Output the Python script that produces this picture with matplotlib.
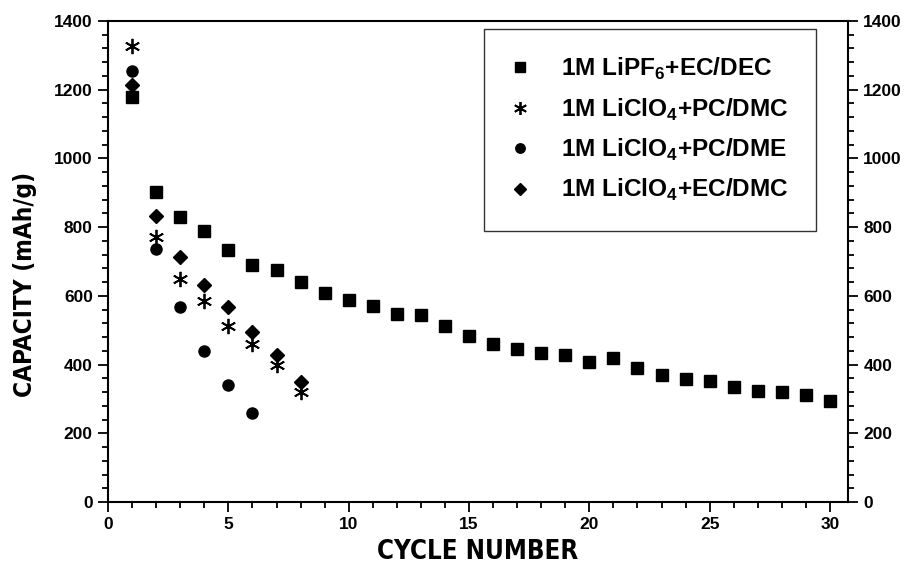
import matplotlib
matplotlib.use("Agg")
import matplotlib.pyplot as plt
from matplotlib.ticker import MultipleLocator

plt.rcParams["font.family"] = ["Liberation Sans", "DejaVu Sans"]
plt.rcParams["font.weight"] = "bold"
plt.rcParams["mathtext.fontset"] = "custom"
plt.rcParams["mathtext.rm"] = "Liberation Sans:bold"
plt.rcParams["mathtext.bf"] = "Liberation Sans:bold"

# Discharge capacity (mAh/g) per cycle for each electrolyte
cycles_lipf6 = list(range(1, 31))
cap_lipf6 = [1179, 901, 830, 789, 733, 691, 675, 640, 609, 588,
             570, 546, 543, 512, 484, 461, 444, 434, 427, 407,
             420, 389, 370, 358, 352, 335, 323, 321, 311, 294]

cycles_pc_dmc = list(range(1, 9))
cap_pc_dmc = [1327, 770, 648, 584, 513, 459, 399, 321]

cycles_pc_dme = list(range(1, 7))
cap_pc_dme = [1255, 735, 568, 440, 341, 260]

cycles_ec_dmc = list(range(1, 9))
cap_ec_dmc = [1214, 832, 714, 632, 568, 496, 428, 350]

labels = [r"1M LiPF$_\mathbf{6}$+EC/DEC",
          r"1M LiClO$_\mathbf{4}$+PC/DMC",
          r"1M LiClO$_\mathbf{4}$+PC/DME",
          r"1M LiClO$_\mathbf{4}$+EC/DMC"]

fig = plt.figure(figsize=(9.08, 5.66), dpi=100)
ax = fig.add_axes([0.119, 0.113, 0.815, 0.850])

ax.plot(cycles_lipf6, cap_lipf6, linestyle="none", marker="s", ms=8,
        color="black", label=labels[0])
ax.plot(cycles_pc_dmc, cap_pc_dmc, linestyle="none", marker=(6, 2, 0), ms=11,
        mew=1.3, color="black", label=labels[1])
ax.plot(cycles_pc_dme, cap_pc_dme, linestyle="none", marker="o", ms=8,
        color="black", label=labels[2])
ax.plot(cycles_ec_dmc, cap_ec_dmc, linestyle="none", marker="D", ms=7,
        color="black", label=labels[3])

ax.set_xlim(0, 30.75)
ax.set_ylim(0, 1400)
ax.xaxis.set_major_locator(MultipleLocator(5))
ax.xaxis.set_minor_locator(MultipleLocator(1))
ax.yaxis.set_major_locator(MultipleLocator(200))
ax.yaxis.set_minor_locator(MultipleLocator(40))

ax.tick_params(which="both", direction="out", width=1.3, colors="black",
               left=True, right=True, bottom=True, top=False,
               labelleft=True, labelright=True, labelsize=12.5)
ax.tick_params(which="major", length=7, pad=4)
ax.tick_params(which="minor", length=4)

for s in ax.spines.values():
    s.set_linewidth(1.5)

ax.set_xlabel("CYCLE NUMBER", family="DejaVu Sans", fontstretch="condensed",
              fontweight="bold", fontsize=18.5, labelpad=5)
ax.set_ylabel("CAPACITY (mAh/g)", family="DejaVu Sans", fontstretch="condensed",
              fontweight="bold", fontsize=17.5)
ax.yaxis.set_label_coords(-0.096, 0.453)

leg = ax.legend(loc="upper right", bbox_to_anchor=(0.957, 0.984),
                frameon=True, fancybox=False, edgecolor="black",
                prop={"family": "Liberation Sans", "weight": "bold", "size": 17.6},
                labelspacing=0.58, handletextpad=1.3, borderpad=1.12,
                markerscale=0.85, handlelength=0.75, borderaxespad=0)
leg.get_frame().set_linewidth(1.0)

fig.savefig("out.png", dpi=100)
